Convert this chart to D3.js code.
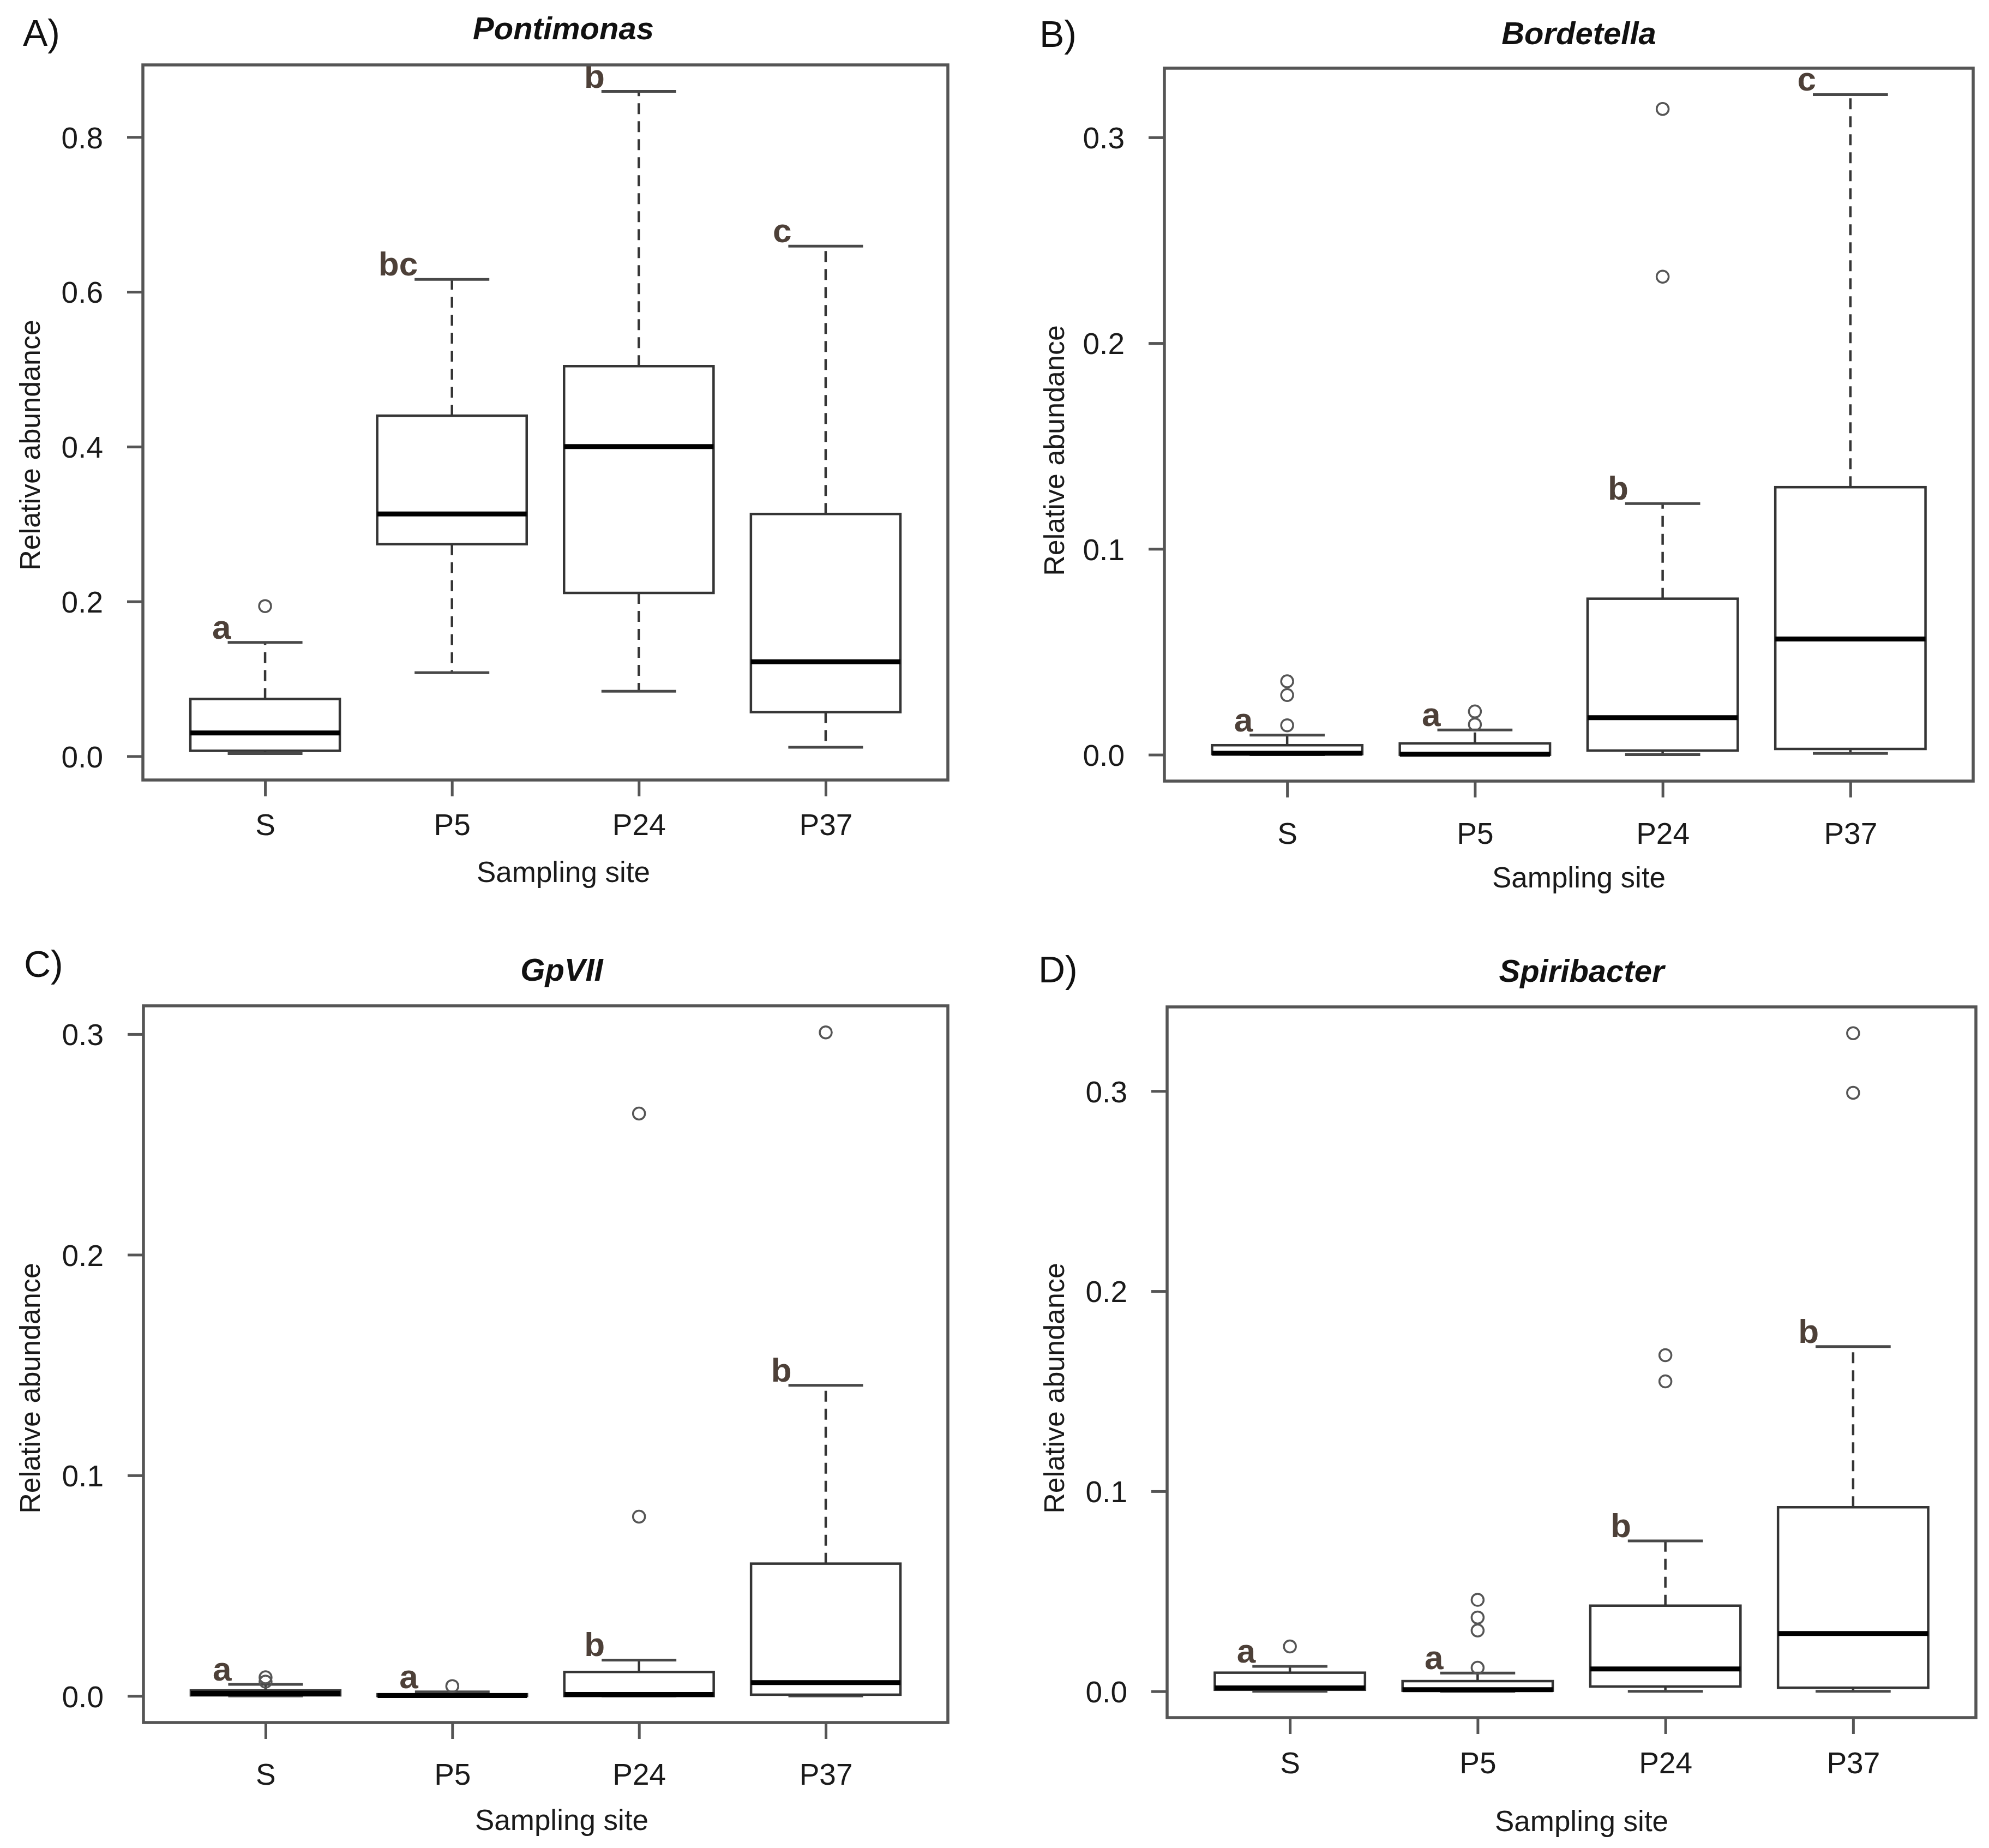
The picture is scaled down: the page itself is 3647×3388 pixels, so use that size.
<!DOCTYPE html>
<html>
<head>
<meta charset="utf-8">
<script src="https://cdn.jsdelivr.net/npm/d3@7"></script>
<style>
  html, body { margin: 0; padding: 0; background: #ffffff; }
  svg { display: block; }
</style>
</head>
<body>
<script>
// ---------------- DATA ----------------
const sites = ["S", "P5", "P24", "P37"];

// five-number summaries per site: [lower whisker, Q1, median, Q3, upper whisker]
const pontimonasStats = [
  [0.0035, 0.007, 0.030, 0.074, 0.147],
  [0.108, 0.274, 0.313, 0.440, 0.616],
  [0.084, 0.211, 0.400, 0.504, 0.859],
  [0.0115, 0.057, 0.122, 0.313, 0.659]
];
const pontimonasOutliers = [[0.194], [], [], []];
const pontimonasLetters = ["a", "bc", "b", "c"];
const pontimonasTicks = [0.0, 0.2, 0.4, 0.6, 0.8];

const bordetellaStats = [
  [0.0, 0.0003, 0.0007, 0.0046, 0.0095],
  [0.0, 0.0, 0.0002, 0.0055, 0.012],
  [0.0, 0.002, 0.018, 0.0758, 0.122],
  [0.0006, 0.0028, 0.0562, 0.130, 0.3208]
];
const bordetellaOutliers = [[0.0357, 0.029, 0.0143], [0.021, 0.0147], [0.3138, 0.2323], []];
const bordetellaLetters = ["a", "a", "b", "c"];
const bordetellaTicks = [0.0, 0.1, 0.2, 0.3];

const gpviiStats = [
  [0.0, 0.0003, 0.0012, 0.0025, 0.0053],
  [0.0, 0.0, 0.0002, 0.0008, 0.0019],
  [0.0, 0.0, 0.0007, 0.0109, 0.0163],
  [0.0, 0.0006, 0.0061, 0.060, 0.1408]
];
const gpviiOutliers = [[0.0085, 0.0065], [0.0045], [0.264, 0.0813], [0.3008]];
const gpviiLetters = ["a", "a", "b", "b"];
const gpviiTicks = [0.0, 0.1, 0.2, 0.3];

const spiribacterStats = [
  [0.0, 0.0008, 0.0017, 0.0093, 0.0125],
  [0.0, 0.0003, 0.0008, 0.0051, 0.0091],
  [0.0, 0.0024, 0.0112, 0.0428, 0.0752],
  [0.0, 0.0018, 0.0289, 0.092, 0.1723]
];
const spiribacterOutliers = [[0.0224], [0.0457, 0.0369, 0.0304, 0.0118], [0.168, 0.1549], [0.3289, 0.2991]];
const spiribacterLetters = ["a", "a", "b", "b"];
const spiribacterTicks = [0.0, 0.1, 0.2, 0.3];

const panelTags = ["A)", "B)", "C)", "D)"];
const genusNames = ["Pontimonas", "Bordetella", "GpVII", "Spiribacter"];
const yTitle = "Relative abundance";
const xTitle = "Sampling site";

// ---------------- LAYOUT ----------------
const W = 3647, H = 3388;
const layouts = [
  { l: 262, r: 1738, t: 119, b: 1430, tagX: 42, tagY: 84, titleX: 1033, titleY: 72,
    yTitleX: 55, yTitleY: 816, xPad: 32, xTitleY: 1617 },
  { l: 2135, r: 3618, t: 125, b: 1432, tagX: 1906, tagY: 86, titleX: 2895, titleY: 81,
    yTitleX: 1933, yTitleY: 826, xPad: 46, xTitleY: 1627 },
  { l: 263, r: 1738, t: 1844, b: 3158, tagX: 44, tagY: 1791, titleX: 1030, titleY: 1798,
    yTitleX: 55, yTitleY: 2545, xPad: 45, xTitleY: 3355 },
  { l: 2140, r: 3623, t: 1846, b: 3149, tagX: 1904, tagY: 1801, titleX: 2900, titleY: 1800,
    yTitleX: 1933, yTitleY: 2545, xPad: 33, xTitleY: 3357 }
];

const panelData = [
  { stats: pontimonasStats, outliers: pontimonasOutliers, letters: pontimonasLetters, ticks: pontimonasTicks },
  { stats: bordetellaStats, outliers: bordetellaOutliers, letters: bordetellaLetters, ticks: bordetellaTicks },
  { stats: gpviiStats, outliers: gpviiOutliers, letters: gpviiLetters, ticks: gpviiTicks },
  { stats: spiribacterStats, outliers: spiribacterOutliers, letters: spiribacterLetters, ticks: spiribacterTicks }
];

const FONT = "'Liberation Sans', Arial, Helvetica, sans-serif";
const NARROW = "'Liberation Sans Narrow', 'Arial Narrow', 'Liberation Sans', sans-serif";
const frameColor = "#555555";
const boxColor = "#353535";
const letterColor = "#4d4038";

const svg = d3.select("body").append("svg")
  .attr("width", W).attr("height", H)
  .attr("viewBox", `0 0 ${W} ${H}`);

svg.append("rect").attr("width", W).attr("height", H).attr("fill", "#ffffff");

panelData.forEach((pd, i) => {
  const L = layouts[i];
  const g = svg.append("g");

  const allVals = pd.stats.flat().concat(pd.outliers.flat());
  const [mn, mx] = d3.extent(allVals);
  const pad = (mx - mn) * 0.04;

  const x = d3.scalePoint().domain(sites).range([L.l, L.r]).padding(0.654);
  const y = d3.scaleLinear().domain([mn - pad, mx + pad]).range([L.b, L.t]);
  const step = x.step();
  const halfBox = 0.4 * step;
  const halfCap = 0.2 * step;

  // y axis
  const yAxis = g.append("g").attr("transform", `translate(${L.l},0)`)
    .call(d3.axisLeft(y).tickValues(pd.ticks).tickFormat(d3.format(".1f")).tickSize(29).tickPadding(44));
  yAxis.select(".domain").remove();
  yAxis.selectAll(".tick line").attr("stroke", frameColor).attr("stroke-width", 5);
  yAxis.selectAll(".tick text")
    .attr("font-family", FONT).attr("font-size", 55).attr("fill", "#1a1a1a").attr("dy", "0.36em");

  // x axis
  const xAxis = g.append("g").attr("transform", `translate(0,${L.b})`)
    .call(d3.axisBottom(x).tickSize(30).tickPadding(L.xPad));
  xAxis.select(".domain").remove();
  xAxis.selectAll(".tick line").attr("stroke", frameColor).attr("stroke-width", 5);
  xAxis.selectAll(".tick text")
    .attr("font-family", FONT).attr("font-size", 55).attr("fill", "#1a1a1a");

  // boxes
  sites.forEach((s, k) => {
    const [lo, q1, med, q3, hi] = pd.stats[k];
    const cx = x(s);
    const bg = g.append("g");
    // whiskers (dashed)
    bg.append("line").attr("x1", cx).attr("x2", cx).attr("y1", y(q3)).attr("y2", y(hi))
      .attr("stroke", boxColor).attr("stroke-width", 4.5).attr("stroke-dasharray", "20,13");
    bg.append("line").attr("x1", cx).attr("x2", cx).attr("y1", y(q1)).attr("y2", y(lo))
      .attr("stroke", boxColor).attr("stroke-width", 4.5).attr("stroke-dasharray", "20,13");
    // caps
    bg.append("line").attr("x1", cx - halfCap).attr("x2", cx + halfCap).attr("y1", y(hi)).attr("y2", y(hi))
      .attr("stroke", "#484848").attr("stroke-width", 5);
    bg.append("line").attr("x1", cx - halfCap).attr("x2", cx + halfCap).attr("y1", y(lo)).attr("y2", y(lo))
      .attr("stroke", "#484848").attr("stroke-width", 5);
    // box
    bg.append("rect").attr("x", cx - halfBox).attr("width", 2 * halfBox)
      .attr("y", y(q3)).attr("height", Math.max(0, y(q1) - y(q3)))
      .attr("fill", "#ffffff").attr("stroke", boxColor).attr("stroke-width", 4.5);
    // median
    bg.append("line").attr("x1", cx - halfBox).attr("x2", cx + halfBox).attr("y1", y(med)).attr("y2", y(med))
      .attr("stroke", "#000000").attr("stroke-width", 9);
    // outliers
    bg.selectAll("circle.out").data(pd.outliers[k]).enter().append("circle")
      .attr("class", "out").attr("cx", cx).attr("cy", d => y(d)).attr("r", 11)
      .attr("fill", "none").attr("stroke", "#555555").attr("stroke-width", 3.5);
    // significance letters
    bg.append("text").attr("x", cx - halfCap + 6).attr("y", y(hi) - 7)
      .attr("text-anchor", "end").attr("font-family", NARROW).attr("font-weight", "bold")
      .attr("font-size", 62).attr("fill", letterColor).text(pd.letters[k]);
  });

  // frame
  g.append("rect").attr("x", L.l).attr("y", L.t).attr("width", L.r - L.l).attr("height", L.b - L.t)
    .attr("fill", "none").attr("stroke", frameColor).attr("stroke-width", 5.5);

  // panel tag
  g.append("text").attr("x", L.tagX).attr("y", L.tagY).attr("font-family", FONT)
    .attr("font-size", 68).attr("fill", "#111111").text(panelTags[i]);
  // title
  g.append("text").attr("x", L.titleX).attr("y", L.titleY).attr("text-anchor", "middle")
    .attr("font-family", FONT).attr("font-weight", "bold").attr("font-style", "italic")
    .attr("font-size", 58).attr("fill", "#111111").text(genusNames[i]);
  // y title
  g.append("text").attr("transform", `translate(${L.yTitleX},${L.yTitleY}) rotate(-90)`)
    .attr("text-anchor", "middle").attr("dy", "0.35em")
    .attr("font-family", FONT).attr("font-size", 52).attr("fill", "#1a1a1a").text(yTitle);
  // x title
  g.append("text").attr("x", L.titleX).attr("y", L.xTitleY).attr("text-anchor", "middle")
    .attr("font-family", FONT).attr("font-size", 53).attr("fill", "#1a1a1a").text(xTitle);
});
</script>
</body>
</html>
